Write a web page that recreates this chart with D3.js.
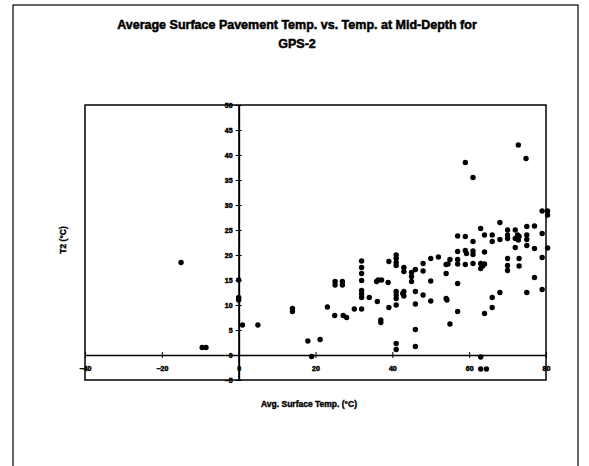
<!DOCTYPE html>
<html><head><meta charset="utf-8">
<script src="https://cdn.jsdelivr.net/npm/d3@7"></script>
<style>body{margin:0;background:#fff}svg{display:block}text{font-family:"Liberation Sans",Arial,sans-serif;font-weight:bold;fill:#000}</style>
</head><body><svg id="c" width="589" height="466"></svg>
<script>
const titleLines = ["Average Surface Pavement Temp. vs. Temp. at Mid-Depth for", "GPS-2"];
const xLabel = "Avg. Surface Temp. (\u00b0C)";
const yLabel = "T2 (\u00b0C)";
const xTicks = [-40, -20, 0, 20, 40, 60, 80];
const yTicks = [-5, 0, 5, 10, 15, 20, 25, 30, 35, 40, 45, 50];
const surfaceTemp = [
 -15, -9.5, -8.5, 0, 0, 0, 1, 5, 14, 14, 18, 19, 21.2, 23.1, 25, 25.1, 25.1, 27, 27, 27.2, 28.1, 30.1,
 32, 32, 32, 32, 32, 32, 32, 32, 34, 35.9, 36.3, 37.2, 36.1, 37, 37, 38.9, 39.1, 39.1,
 41, 41, 41, 41, 41, 41, 41, 41, 41, 41, 42.7, 43, 43, 43, 43, 45, 45, 45, 46, 46, 46, 46, 46,
 48, 48, 48, 50, 50, 50, 52, 54, 54.5, 55, 54, 54, 54.2, 55,
 57, 57, 57, 57, 57, 57, 59, 61, 59, 59, 59.3, 59, 61, 61, 61, 61,
 63, 64, 63, 63.5, 64, 63, 64, 64, 63, 63, 64.5, 66, 66, 66, 66, 68, 68, 68,
 70, 70, 70, 70, 70, 70, 72, 72, 72, 72.6, 73, 72.8, 73, 73, 72.8, 74.8,
 75, 75, 75, 75, 75, 77, 77, 77, 79, 79, 79, 79, 80.4, 80.4, 80.4
];
const midDepthTemp = [
 18.5, 1.5, 1.5, 15, 11.5, 11, 6, 6, 9.3, 8.7, 2.8, -0.3, 3.1, 9.6, 7.9, 14.7, 14, 14.7, 14, 7.9, 7.5, 9.2,
 18.8, 17.5, 16.3, 14.9, 12.9, 12.2, 11.5, 9.2, 11.5, 14.7, 15, 15, 10.7, 7, 6.5, 14.5, 18.7, 9.5,
 20, 19.3, 18.5, 17.9, 12.7, 12, 11.3, 10, 2.3, 1.1, 12.3, 17.5, 16.7, 12.7, 11.8, 16.5, 15.7, 14.7, 17.1, 12.7, 10.2, 5.1, 1.7,
 18.3, 16.8, 12, 19.3, 14.8, 10.8, 19.6, 18.1, 18.2, 19.1, 16.3, 11.3, 11, 6.2,
 23.8, 20.7, 19.1, 18.2, 14.3, 8.7, 38.5, 35.5, 23.7, 20.9, 20.3, 18.1, 22.7, 20.8, 20.1, 18.3,
 25.3, 24, 18.3, 17.8, 18.2, 17.3, 20.6, 8.3, -0.4, -2.8, -2.8, 24, 22.7, 11.5, 9.5, 26.5, 23.1, 12.5,
 25, 24, 23.3, 19.3, 17.9, 16.9, 25, 23.3, 21.5, 24, 23.7, 23, 19.3, 17.8, 42, 39.3,
 25.7, 24, 23.1, 21.9, 12.5, 25.8, 21.3, 15.5, 24.3, 19.5, 13.1, 28.8, 28.8, 28, 21.4
];

const svg = d3.select("#c");
const L = 85, T = 105, R = 546, B = 380;
const x = d3.scaleLinear().domain([-40, 80]).range([L, R]);
const y = d3.scaleLinear().domain([-5, 50]).range([B, T]);

// outer border
svg.append("rect").attr("x", 13).attr("y", 5).attr("width", 565).attr("height", 470)
  .attr("fill", "none").attr("stroke", "#000").attr("stroke-width", 1.2);

// title
svg.append("text").attr("x", 297).attr("y", 29).attr("text-anchor", "middle").attr("font-size", 12.5)
  .attr("stroke", "#000").attr("stroke-width", 0.5).text(titleLines[0]);
svg.append("text").attr("x", 297).attr("y", 48).attr("text-anchor", "middle").attr("font-size", 12.5)
  .attr("stroke", "#000").attr("stroke-width", 0.5).text(titleLines[1]);

// plot frame
svg.append("rect").attr("x", L).attr("y", T).attr("width", R - L).attr("height", B - T)
  .attr("fill", "none").attr("stroke", "#000").attr("stroke-width", 1.5);

// y axis at x=0
const yAxis = d3.axisLeft(y).tickValues(yTicks).tickSizeInner(3).tickSizeOuter(0).tickPadding(3);
const gy = svg.append("g").attr("transform", `translate(${x(0)},0)`).call(yAxis);
gy.select(".domain").attr("stroke-width", 2);
gy.selectAll(".tick line").attr("x1", -3).attr("x2", 3).attr("stroke-width", 1);
gy.selectAll(".tick text").attr("font-size", 7).attr("font-family", "Liberation Sans, Arial, sans-serif")
  .attr("font-weight", "bold").attr("stroke", "#000").attr("stroke-width", 0.5);

// x axis at y=0
const xAxis = d3.axisBottom(x).tickValues(xTicks).tickSizeInner(3).tickSizeOuter(0).tickPadding(8);
const gx = svg.append("g").attr("transform", `translate(0,${y(0)})`).call(xAxis);
gx.select(".domain").attr("stroke-width", 1.6);
gx.selectAll(".tick line").attr("y1", -3).attr("y2", 3).attr("stroke-width", 1);
gx.selectAll(".tick text").attr("font-size", 7).attr("font-family", "Liberation Sans, Arial, sans-serif")
  .attr("font-weight", "bold").attr("stroke", "#000").attr("stroke-width", 0.5);

// axis labels
svg.append("text").attr("x", 309).attr("y", 407).attr("text-anchor", "middle").attr("font-size", 8.5)
  .attr("stroke", "#000").attr("stroke-width", 0.4).text(xLabel);
svg.append("text").attr("transform", "translate(66,240) rotate(-90)").attr("text-anchor", "middle").attr("font-size", 8.5)
  .attr("stroke", "#000").attr("stroke-width", 0.4).text(yLabel);

// points
svg.append("g").selectAll("circle").data(surfaceTemp.map((v, i) => [v, midDepthTemp[i]]))
  .join("circle").attr("cx", d => x(d[0])).attr("cy", d => y(d[1])).attr("r", 2.7).attr("fill", "#000");
</script></body></html>
